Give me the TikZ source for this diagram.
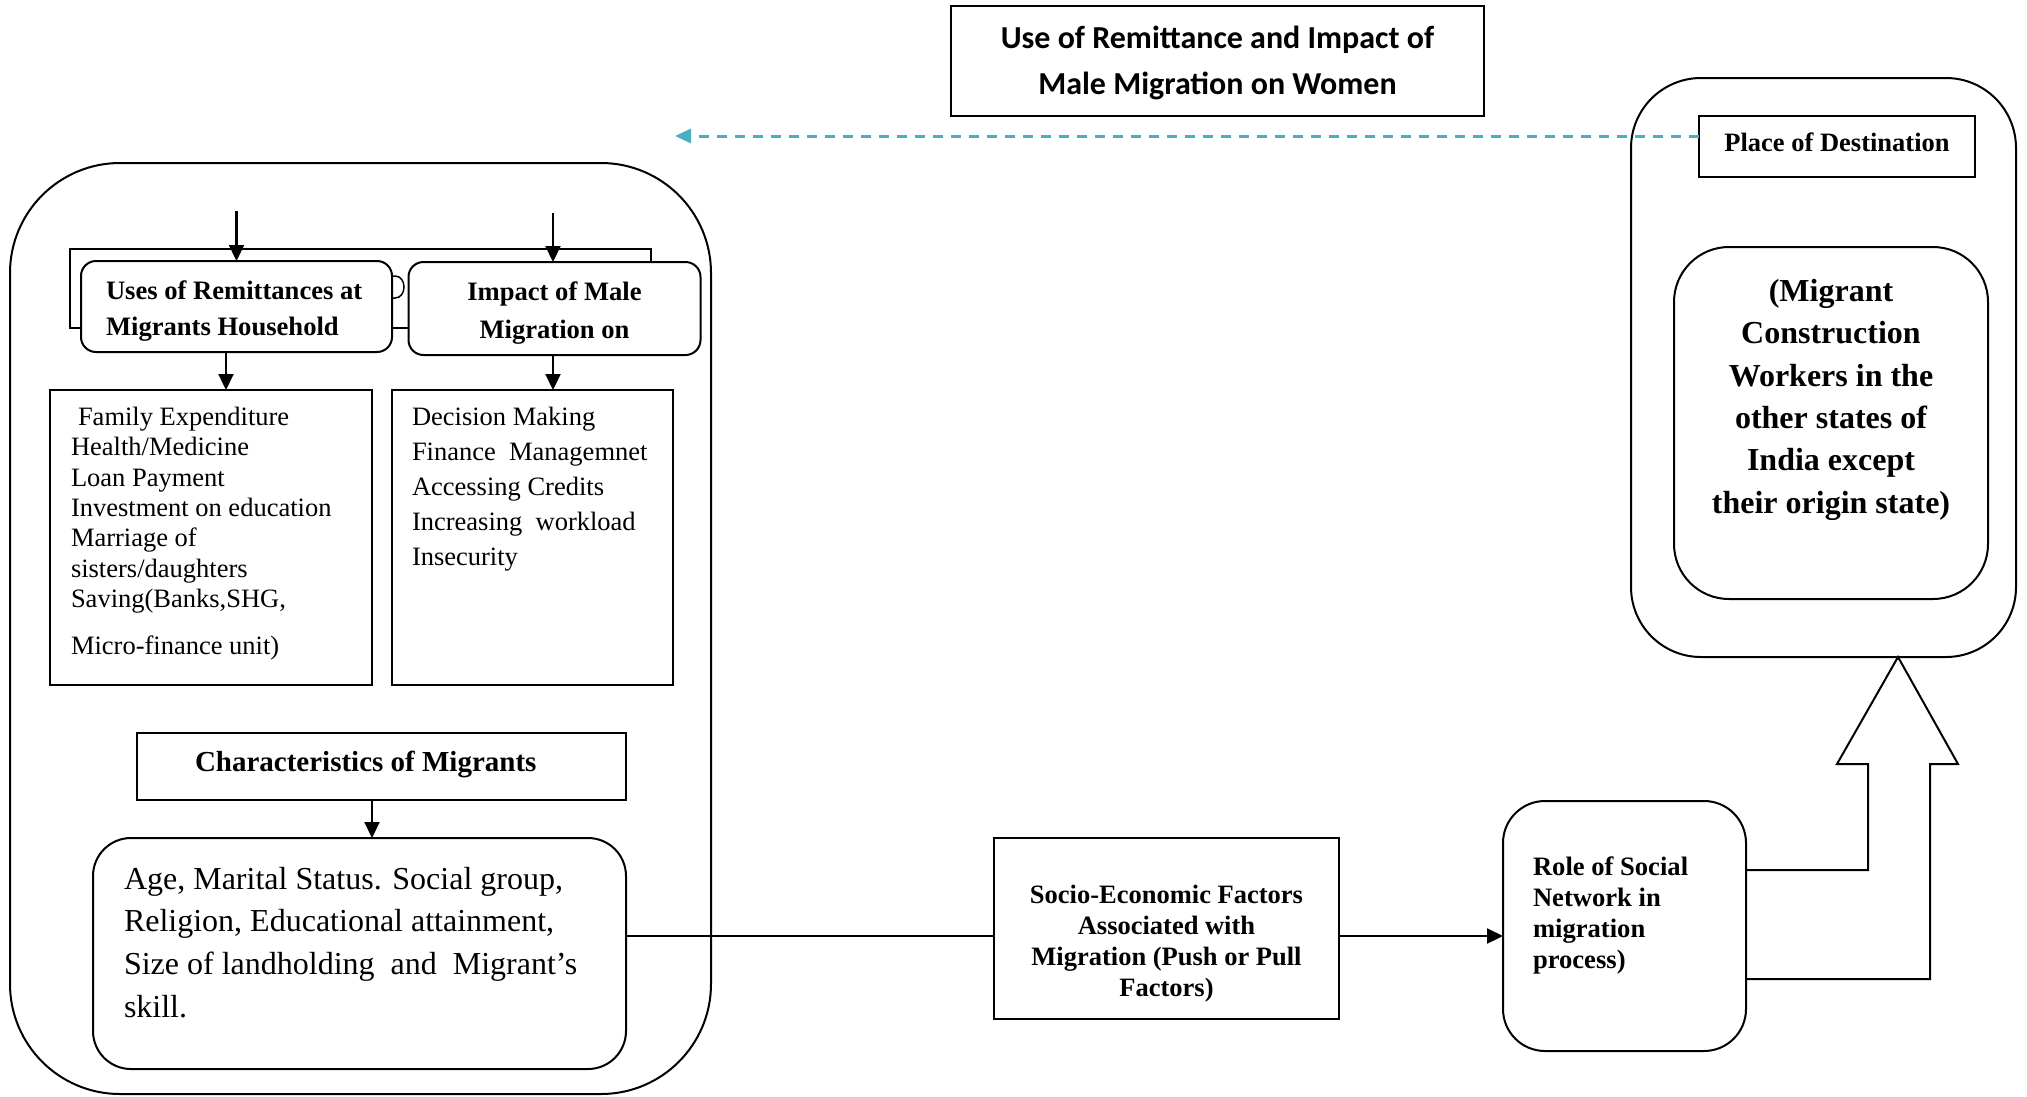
\documentclass[tikz,border=0pt]{standalone}
\usepackage{fontspec}
\setmainfont{Liberation Serif}
\newfontfamily\titlefont{Carlito}
\usetikzlibrary{arrows.meta}
\definecolor{dashblue}{HTML}{4BACC6}
\newcommand\bx[4]{\parbox[c][#1][t]{#2}{\vspace*{#3}#4}}
\tikzset{
  box/.style={draw, line width=2pt, fill=white, inner sep=0pt, outer sep=0pt},
  arr/.style={line width=2.2pt, -{Triangle[length=16pt,width=15pt]}},
  conn/.style={line width=2.2pt},
  dasharr/.style={dashblue, line width=3pt, dash pattern=on 10pt off 8pt, -{Triangle[length=16pt,width=14pt]}},
}
\begin{document}
\begin{tikzpicture}[x=1pt,y=-1pt]
\useasboundingbox (0,0) rectangle (2027,1096);

% big containers
\node[box, rounded corners=110pt, minimum width=701pt, minimum height=931pt] (bigleft) at (360.5,628.5) {};
\node[box, rounded corners=70pt, minimum width=385pt, minimum height=579pt] (rightbig) at (1823.5,367.5) {};

% title
\node[box] (title) at (1217.5,61) {\bx{110pt}{533pt}{20pt}{\centering\titlefont\bfseries\fontsize{32}{46}\selectfont Use of Remittance and Impact of\\ Male Migration on Women}};

% place of destination
\node[box] (place) at (1837,146.5) {\bx{61pt}{276pt}{17pt}{\centering\bfseries\fontsize{26.5}{31}\selectfont Place of Destination}};

% migrant workers
\node[box, rounded corners=55pt] (migrant) at (1831,423) {\bx{352pt}{314pt}{32pt}{\centering\bfseries\fontsize{32}{42.4}\selectfont (Migrant\\ Construction\\ Workers in the\\ other states of\\ India except\\ their origin state)}};

% bracket behind the two headers and hidden glyph
\draw[conn] (70,249) rectangle (651,328);
\draw[line width=1.5pt] (385,276) -- (395,276) .. controls (407,276) and (407,298) .. (395,298) -- (385,298);

% headers
\node[box, rounded corners=15pt] (uses) at (236.5,306.5) {\bx{91pt}{311pt}{20pt}{\raggedright\leftskip=25pt\bfseries\fontsize{26.6}{36}\selectfont Uses of Remittances at\\ Migrants Household}};
\node[box, rounded corners=15pt] (impact) at (554.5,308.5) {\bx{93pt}{292pt}{20pt}{\centering\bfseries\fontsize{26.6}{38}\selectfont Impact of Male\\ Migration on}};

% lists
\node[box] (list1) at (211,537.5) {\bx{295pt}{322pt}{17pt}{\raggedright\leftskip=21pt\fontsize{26.5}{30.4}\selectfont \hspace*{7pt}Family Expenditure\\ Health/Medicine\\ Loan Payment\\ Investment on education\\ Marriage of\\ sisters/daughters\\ Saving(Banks,SHG,\\[16pt] Micro-finance unit)}};
\node[box] (list2) at (532.5,537.5) {\bx{295pt}{281pt}{17pt}{\raggedright\leftskip=20pt\fontsize{26.5}{35}\selectfont Decision Making\\ Finance\ \ Managemnet\\ Accessing Credits\\ Increasing\ \ workload\\ Insecurity}};

% characteristics
\node[box] (chars) at (381.5,766.5) {\bx{67pt}{489pt}{18pt}{\raggedright\leftskip=58pt\bfseries\fontsize{29}{34}\selectfont Characteristics of Migrants}};
\node[box, rounded corners=38pt] (age) at (359.5,953.5) {\bx{231pt}{533pt}{29pt}{\raggedright\leftskip=31pt\fontsize{32}{42.7}\selectfont Age, Marital Status. Social group,\\ Religion, Educational attainment,\\ Size of landholding\ \ and\ \ Migrant’s\\ skill.}};

% socio-economic
\node[box] (socio) at (1166.5,928.5) {\bx{181pt}{345pt}{47pt}{\centering\bfseries\fontsize{26.5}{31}\selectfont Socio-Economic Factors\\ Associated with\\ Migration (Push or Pull\\ Factors)}};

% role of social network
\node[box, rounded corners=42pt] (role) at (1624.5,926) {\bx{250pt}{243pt}{56pt}{\raggedright\leftskip=30pt\bfseries\fontsize{26.6}{31}\selectfont Role of Social\\ Network in\\ migration\\ process)}};

% coordinates for connectors
\coordinate (inU) at (236.5,211);
\coordinate (inI) at (553,213);
\coordinate (dU) at (226,370);
\coordinate (dI) at (553,370);
\coordinate (dC) at (372,820);
\coordinate (lvl) at (800,936);
\coordinate (ba1) at (1868,870);
\coordinate (ba2) at (1930,979);
\coordinate (tipx) at (1898,600);
\coordinate (dashend) at (675,136);

% connectors
\draw[arr] (inU) -- (inU |- uses.north);
\draw[arr] (inI) -- (inI |- impact.north);
\draw[arr] (uses.south -| dU) -- (list1.north -| dU);
\draw[arr] (impact.south -| dI) -- (list2.north -| dI);
\draw[arr] (chars.south -| dC) -- (age.north -| dC);
\draw[conn] (age.east |- lvl) -- (socio.west |- lvl);
\draw[arr] (socio.east |- lvl) -- (role.west |- lvl);
\draw[dasharr] (place.west |- dashend) -- (dashend);

% block arrow from role box up to destination
\draw[line width=2pt, line join=miter] (role.east |- ba1) -- (ba1) -- (1868,764) -- (1837,764) -- (rightbig.south -| tipx) -- (1958,764) -- (1930,764) -- (ba2) -- (role.east |- ba2);
\end{tikzpicture}
\end{document}
